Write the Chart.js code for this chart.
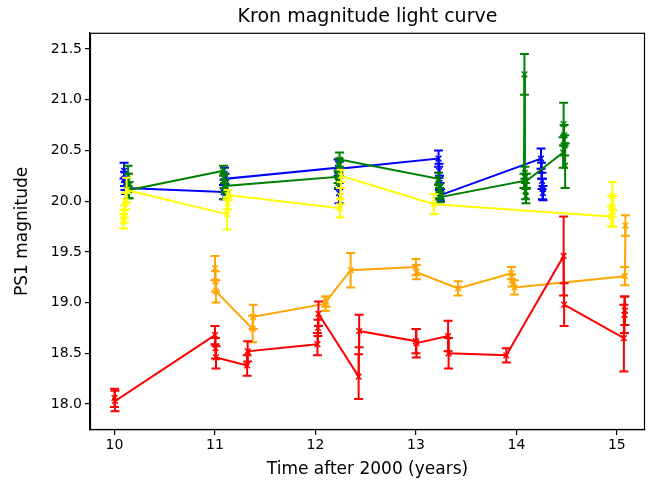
<!DOCTYPE html>
<html>
<head>
<meta charset="utf-8">
<script src="https://cdn.jsdelivr.net/npm/chart.js@4"></script>
<style>
  html, body { margin: 0; padding: 0; background: #fff; }
</style>
</head>
<body>
<canvas id="lightCurve" width="658" height="485"></canvas>
<script>
// --- Data: time (years after 2000), Kron magnitude, 1-sigma error ---
const blueTime = [10.095, 10.10, 10.105, 10.11, 11.085, 11.09, 11.095, 11.10, 12.225, 12.23, 12.235, 12.24, 13.225, 13.23, 13.235, 13.24, 13.245, 14.245, 14.25, 14.255, 14.26, 14.265];
const blueMag  = [20.30, 20.22, 20.17, 20.13, 20.09, 20.15, 20.27, 20.22, 20.33, 20.20, 20.08, 20.32, 20.42, 20.30, 20.18, 20.10, 20.06, 20.42, 20.30, 20.20, 20.12, 20.08];
const blueErr  = [0.08, 0.07, 0.06, 0.06, 0.07, 0.06, 0.06, 0.05, 0.08, 0.08, 0.10, 0.07, 0.08, 0.07, 0.07, 0.08, 0.06, 0.10, 0.08, 0.08, 0.10, 0.07];

const greenTime = [10.135, 10.14, 10.145, 11.085, 11.09, 11.095, 11.10, 12.225, 12.23, 12.235, 12.24, 13.225, 13.23, 13.235, 13.24, 14.075, 14.08, 14.085, 14.09, 14.095, 14.10, 14.465, 14.47, 14.475, 14.48, 14.485];
const greenMag  = [20.25, 20.15, 20.11, 20.30, 20.20, 20.10, 20.15, 20.24, 20.18, 20.35, 20.41, 20.22, 20.12, 20.08, 20.04, 20.20, 21.25, 20.28, 20.10, 20.05, 20.20, 20.48, 20.76, 20.65, 20.55, 20.35];
const greenErr  = [0.10, 0.12, 0.08, 0.05, 0.07, 0.08, 0.06, 0.06, 0.05, 0.07, 0.07, 0.06, 0.05, 0.05, 0.05, 0.07, 0.20, 0.06, 0.08, 0.07, 0.07, 0.15, 0.21, 0.10, 0.10, 0.22];

const yellowTime = [10.09, 10.095, 10.10, 10.11, 10.12, 11.12, 11.125, 11.13, 12.245, 12.25, 12.255, 13.18, 14.945, 14.95, 14.955, 14.96];
const yellowMag  = [19.80, 19.85, 19.90, 20.00, 20.11, 19.87, 19.98, 20.06, 19.93, 20.05, 20.25, 19.97, 19.85, 19.95, 20.05, 19.90];
const yellowErr  = [0.07, 0.06, 0.06, 0.08, 0.12, 0.15, 0.06, 0.05, 0.09, 0.08, 0.06, 0.10, 0.10, 0.10, 0.14, 0.15];

const orangeTime = [11.00, 11.005, 11.01, 11.375, 11.38, 12.10, 12.105, 12.35, 13.00, 13.005, 13.42, 13.95, 13.955, 13.98, 15.08, 15.085];
const orangeMag  = [19.34, 19.21, 19.11, 18.74, 18.86, 18.99, 19.01, 19.32, 19.35, 19.30, 19.14, 19.29, 19.22, 19.15, 19.26, 19.76];
const orangeErr  = [0.12, 0.10, 0.11, 0.13, 0.12, 0.07, 0.05, 0.17, 0.08, 0.07, 0.07, 0.06, 0.06, 0.07, 0.09, 0.10];

const redTime = [10.00, 10.005, 11.00, 11.005, 11.01, 11.32, 11.325, 12.02, 12.025, 12.03, 12.43, 12.435, 13.00, 13.005, 13.32, 13.325, 13.90, 14.47, 14.475, 15.07, 15.075, 15.08];
const redMag  = [18.06, 18.03, 18.68, 18.55, 18.46, 18.38, 18.52, 18.59, 18.75, 18.89, 18.27, 18.72, 18.62, 18.60, 18.67, 18.50, 18.48, 19.46, 18.98, 18.65, 18.88, 18.92];
const redErr  = [0.09, 0.10, 0.09, 0.10, 0.11, 0.10, 0.10, 0.11, 0.08, 0.12, 0.22, 0.16, 0.12, 0.14, 0.15, 0.15, 0.07, 0.39, 0.21, 0.33, 0.18, 0.14];

const xTicks = [10, 11, 12, 13, 14, 15];
const yTicks = [18.0, 18.5, 19.0, 19.5, 20.0, 20.5, 21.0, 21.5];

const FONT = 'DejaVu Sans';

function makeSeries(time, mag, err, color, idx) {
    return {
        data: time.map((t, i) => ({ x: t, y: mag[i], err: err[i] })),
        borderColor: color,
        backgroundColor: color,
        borderWidth: 2,
        pointStyle: 'crossRot',
        pointRadius: 4,
        pointBorderWidth: 1.5,
        showLine: true,
        tension: 0,
        order: 10 - idx   // later series drawn on top, like matplotlib
    };
}

// --- Error bars, drawn through the chart's own scales ---
const errorBars = {
    id: 'errorBars',
    beforeDatasetDraw(chart, args) {
        const ds = chart.data.datasets[args.index];
        const xs = chart.scales.x, ys = chart.scales.y;
        const ctx = chart.ctx;
        const cap = 4.5;
        ctx.save();
        ctx.beginPath();
        ctx.rect(chart.chartArea.left, chart.chartArea.top, chart.chartArea.width, chart.chartArea.height);
        ctx.clip();
        ctx.strokeStyle = ds.borderColor;
        ctx.lineWidth = 2;
        ds.data.forEach(p => {
            const px = xs.getPixelForValue(p.x);
            const top = ys.getPixelForValue(p.y + p.err);
            const bot = ys.getPixelForValue(p.y - p.err);
            ctx.beginPath();
            ctx.moveTo(px, top); ctx.lineTo(px, bot);
            ctx.moveTo(px - cap, top); ctx.lineTo(px + cap, top);
            ctx.moveTo(px - cap, bot); ctx.lineTo(px + cap, bot);
            ctx.stroke();
        });
        ctx.restore();
    }
};

// --- Frame around the axes (all four spines) ---
const frame = {
    id: 'frame',
    afterDraw(chart) {
        const a = chart.chartArea, ctx = chart.ctx;
        ctx.save();
        ctx.strokeStyle = '#000';
        ctx.lineWidth = 1.2;
        ctx.strokeRect(a.left + 0.5, a.top + 0.5, a.width - 1, a.height - 1);
        ctx.restore();
    }
};

new Chart(document.getElementById('lightCurve'), {
    type: 'scatter',
    data: {
        datasets: [
            makeSeries(blueTime, blueMag, blueErr, '#0000ff', 0),
            makeSeries(greenTime, greenMag, greenErr, '#008000', 1),
            makeSeries(yellowTime, yellowMag, yellowErr, '#ffff00', 2),
            makeSeries(orangeTime, orangeMag, orangeErr, '#ffa500', 3),
            makeSeries(redTime, redMag, redErr, '#ff0000', 4)
        ]
    },
    options: {
        responsive: false,
        animation: false,
        layout: { padding: { left: 2, right: 13, top: 0, bottom: 3 } },
        plugins: {
            legend: { display: false },
            tooltip: { enabled: false },
            title: {
                display: true,
                fullSize: false,   // center over the plot area, as matplotlib does
                text: 'Kron magnitude light curve',
                color: '#000',
                font: { family: FONT, size: 19, weight: 'normal' },
                padding: { top: 6, bottom: 4 }
            }
        },
        scales: {
            x: {
                type: 'linear',
                min: 9.756,
                max: 15.28,
                afterBuildTicks: s => { s.ticks = xTicks.map(v => ({ value: v })); },
                afterFit: s => { s.height = 52; },
                grid: { display: true, drawOnChartArea: false, drawTicks: true, tickLength: 5, color: '#000', lineWidth: 1.2 },
                border: { display: true, color: '#000', width: 1.2 },
                ticks: { color: '#000', font: { family: FONT, size: 14 }, padding: 2, maxRotation: 0 },
                title: {
                    display: true,
                    text: 'Time after 2000 (years)',
                    color: '#000',
                    font: { family: FONT, size: 17 },
                    padding: { top: 4, bottom: 2 }
                }
            },
            y: {
                type: 'linear',
                min: 17.744,
                max: 21.66,
                afterBuildTicks: s => { s.ticks = yTicks.map(v => ({ value: v })); },
                afterFit: s => { s.width = 88; },
                grid: { display: true, drawOnChartArea: false, drawTicks: true, tickLength: 5, color: '#000', lineWidth: 1.2 },
                border: { display: true, color: '#000', width: 1.2 },
                ticks: {
                    color: '#000',
                    font: { family: FONT, size: 14 },
                    padding: 3,
                    callback: v => v.toFixed(1)
                },
                title: {
                    display: true,
                    text: 'PS1 magnitude',
                    color: '#000',
                    font: { family: FONT, size: 17 },
                    padding: { top: 10, bottom: 4 }
                }
            }
        }
    },
    plugins: [errorBars, frame]
});
</script>
</body>
</html>
